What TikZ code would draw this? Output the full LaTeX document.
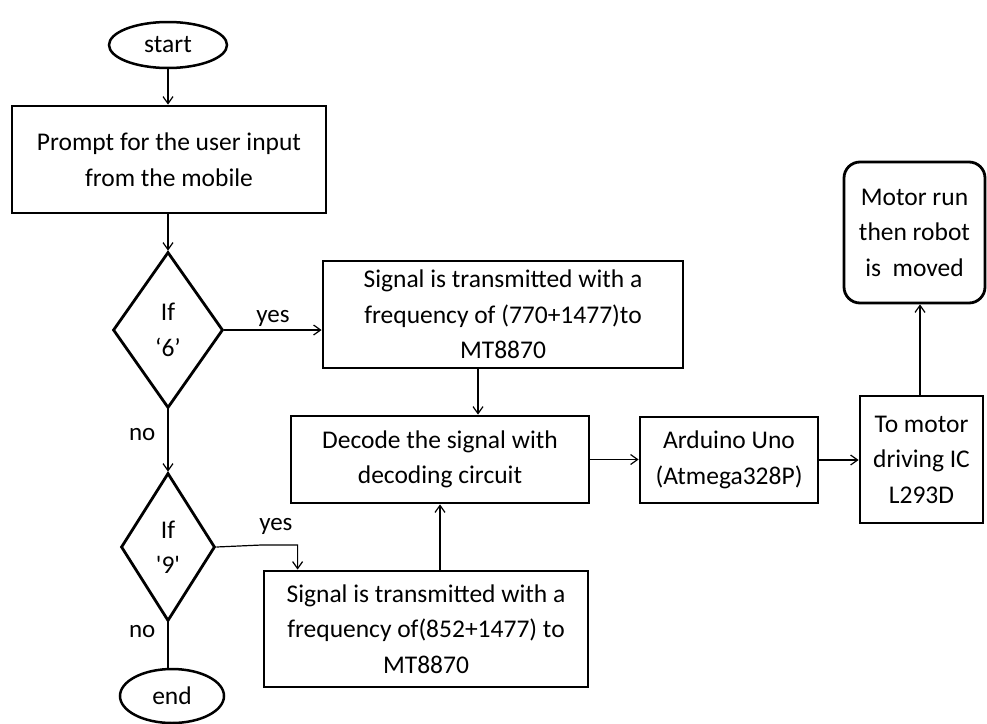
\documentclass[tikz,border=0pt]{standalone}
\usepackage{fontspec}
\setmainfont{Carlito}
\newfontfamily\rawq{Carlito}[Ligatures=ResetAll]
\usetikzlibrary{shapes.geometric,arrows.meta,calc}
\begin{document}
\begin{tikzpicture}[x=1pt,y=-1pt,
  txt/.style={font=\fontsize{25.5}{35.5}\selectfont, align=center},
  box/.style={txt, draw, line width=2.8pt, inner sep=0pt},
  dia/.style={txt, draw, diamond, line width=2.8pt, inner sep=0pt},
  oval/.style={txt, draw, ellipse, line width=2.5pt, inner sep=0pt},
  arr/.style={line width=1.2pt, -{Straight Barb[length=7pt,width=10pt]}},
  con/.style={line width=1.2pt},
  lbl/.style={font=\fontsize{25}{30}\selectfont, inner sep=0pt}]
\useasboundingbox (0,0) rectangle (987,723);
\node[oval, minimum width=118, minimum height=46] (start) at (168,45) {start};
\node[box, minimum width=314, minimum height=107] (prompt) at (169,159.5) {Prompt for the user input\\from the mobile};
\node[dia, minimum width=110, minimum height=156] (d6) at (168,330) {If\\‘6’};
\node[dia, minimum width=94, minimum height=148] (d9) at (168,547) {If\\{\rawq '9'}};
\node[oval, minimum width=104, minimum height=54] (end) at (172,696) {end};
\node[box, minimum width=360, minimum height=107] (s770) at (503,314.5) {Signal is transmitted with a\\frequency of (770+1477)to\\MT8870};
\node[box, minimum width=298, minimum height=87] (dec) at (440,459.5) {Decode the signal with\\decoding circuit};
\node[box, minimum width=324, minimum height=116] (s852) at (426,629) {Signal is transmitted with a\\frequency of(852+1477) to\\MT8870};
\node[box, minimum width=178, minimum height=86] (ard) at (729,460) {Arduino Uno\\(Atmega328P)};
\node[box, minimum width=123, minimum height=127] (ic) at (921.5,459.5) {To motor\\driving IC\\L293D};
\node[box, rounded corners=16pt, minimum width=141, minimum height=141] (run) at (914.5,232.5) {Motor run\\then robot\\is~~moved};
\draw[arr] (start) -- (prompt.north -| start);
\draw[arr] (prompt.south -| d6.north) -- (d6.north);
\draw[arr] (d6.east) -- (s770.west |- d6.east) node[lbl, pos=0.5, above=3pt] (y1) {yes};
\draw[arr] (d6.south) -- (d9.north) node[lbl, pos=0.4, left=12pt] (n1) {no};
\draw[con] (d9.south) -- (end.north -| d9.south) node[lbl, pos=0.2, left=12pt] (n2) {no};
\coordinate (k9) at ([xshift=35pt]s852.north west);
\draw[arr] (d9.east) -- ++(45,-2) -| (k9) node[lbl, pos=0.2, above=10pt] (y2) {yes};
\draw[arr] ([xshift=-25pt]s770.south) -- ([xshift=-25pt]s770.south |- dec.north);
\draw[arr] (dec.south |- s852.north) -- (dec.south);
\draw[arr] (dec.east) -- (ard.west |- dec.east);
\draw[arr] (ard.east) -- (ic.west |- ard.east);
\draw[arr] ([xshift=-1.5pt]ic.north) -- ([xshift=-1.5pt]ic.north |- run.south);
\end{tikzpicture}
\end{document}
